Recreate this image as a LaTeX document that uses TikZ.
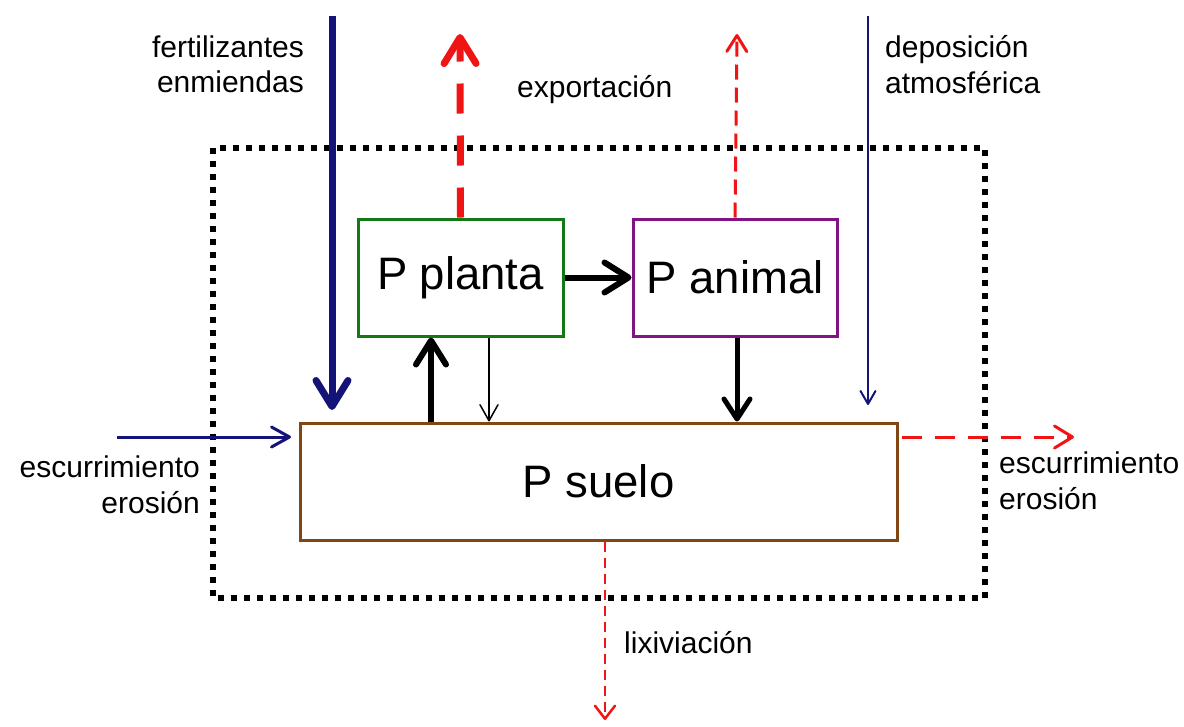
\documentclass[tikz,border=0pt]{standalone}
\usepackage{fontspec}
\setmainfont{Liberation Sans}
\usetikzlibrary{arrows.meta}
\definecolor{navy}{RGB}{20,20,120}
\definecolor{pred}{RGB}{240,20,20}
\definecolor{pgreen}{RGB}{20,120,20}
\definecolor{ppurple}{RGB}{130,20,130}
\definecolor{pbrown}{RGB}{130,70,20}
\tikzset{
  lbl/.style={font=\fontsize{30}{35.5}\selectfont, inner sep=0pt},
  boxlbl/.style={font=\fontsize{45.5}{50}\selectfont},
  barb/.style 2 args={-{Straight Barb[length=#1,width=#2,line cap=round,line join=round]}},
  pool/.style={draw, line width=3pt, inner sep=0pt},
}
\begin{document}
\begin{tikzpicture}[x=1pt,y=-1pt]
\useasboundingbox (0,0) rectangle (1184,726);
% system boundary
\draw[line width=6pt, dash pattern=on 6pt off 7pt] (213,148) rectangle (985,598);
% pools
\node[pool, draw=pgreen, minimum width=205pt, minimum height=117pt, boxlbl] (planta) at (460.5,277.5) {P planta};
\node[pool, draw=ppurple, minimum width=204pt, minimum height=117pt, boxlbl] (animal) at (735,277.5) {P animal};
\node[pool, draw=pbrown, minimum width=597pt, minimum height=117pt, boxlbl] (suelo) at (598.5,481.5) {P suelo};
% free ends
\coordinate (fertTop) at (332,16);
\coordinate (fertEnd) at (332,410);
\coordinate (depTop) at (868,16);
\coordinate (depEnd) at (868,405);
\coordinate (expTip) at (460,34);
\coordinate (expATip) at (737,34);
\coordinate (escIn) at (117,437);
\coordinate (escInEnd) at (291,437);
\coordinate (escOut) at (1074,437);
\coordinate (lixTip) at (605,720);
% labels
\node[lbl, align=right, anchor=east] (fert) at (304,64.5) {fertilizantes\\enmiendas};
\node[lbl, anchor=west] (exp) at (517,90) {exportación};
\node[lbl, align=left, anchor=west] (dep) at (885,64.5) {deposición\\atmosférica};
\node[lbl, align=right, anchor=east] (escL) at (200,485) {escurrimiento\\erosión};
\node[lbl, align=left, anchor=west] (escR) at (999,481) {escurrimiento\\erosión};
\node[lbl, anchor=west] (lix) at (624,643) {lixiviación};
% inputs
\draw[navy, line width=7pt, barb={26pt}{32pt}] (fertTop) -- (fertEnd);
\draw[navy, line width=2pt, barb={13pt}{15pt}] (depTop) -- (depEnd);
\draw[navy, line width=3pt, barb={18pt}{20pt}] (escIn) -- (escInEnd);
% outputs
\draw[pred, line width=7pt, dash pattern=on 30pt off 22pt, barb={26pt}{32pt}] (planta.north) -- (expTip);
\draw[pred, line width=3pt, dash pattern=on 15pt off 8pt, barb={16pt}{20pt}] (animal.north) -- (expATip);
\draw[pred, line width=3pt, dash pattern=on 20pt off 13pt, barb={18pt}{22pt}] (suelo.east |- escIn) ++(3,0) -- (escOut);
\draw[pred, line width=2.5pt, dash pattern=on 10pt off 6pt, barb={13pt}{20pt}] (suelo.south -| lixTip) -- (lixTip);
% internal flows
\draw[line width=6pt, barb={24pt}{30pt}] (planta.east) -- (animal.west);
\draw[line width=6pt, barb={24pt}{30pt}] (suelo.north -| 431,0) -- (planta.south -| 431,0);
\draw[line width=1.5pt, barb={16pt}{18pt}] (planta.south -| 489,0) -- (suelo.north -| 489,0);
\draw[line width=5pt, barb={20pt}{26pt}] (animal.south -| 737,0) -- (suelo.north -| 737,0);
\end{tikzpicture}
\end{document}
